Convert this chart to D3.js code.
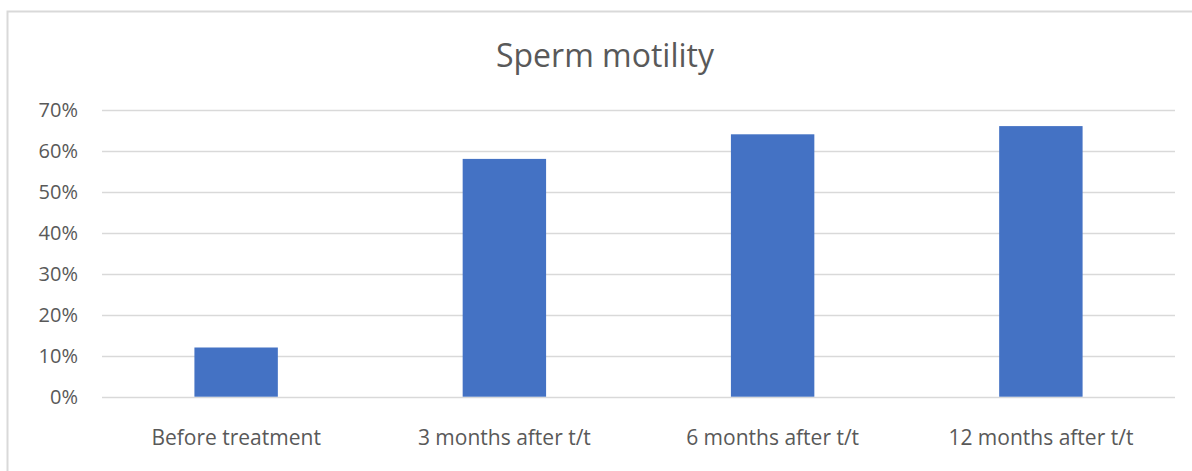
<!DOCTYPE html>
<html>
<head>
<meta charset="utf-8">
<script src="https://cdn.jsdelivr.net/npm/d3@7"></script>
<style>
  body { margin: 0; background: #fff; }
  svg text { font-family: "Open Sans", Lato, sans-serif; fill: #595959; }
</style>
</head>
<body>
<div class="chart"></div>
<script>
(function(){

// chart data
var categories = ["Before treatment", "3 months after t/t", "6 months after t/t", "12 months after t/t"];
var motility = [0.12, 0.58, 0.64, 0.66];
var yTicks = [0, 0.1, 0.2, 0.3, 0.4, 0.5, 0.6, 0.7];
var title = "Sperm motility";

var width = 1192,
    height = 471;

var svg = d3.select(".chart")
    .append("svg")
    .attr("width", width)
    .attr("height", height);

// outer chart frame (right & bottom edges fall off the picture)
svg.append("rect")
    .attr("x", 7.5)
    .attr("y", 11.5)
    .attr("width", 1200)
    .attr("height", 500)
    .attr("fill", "none")
    .attr("stroke", "#d9d9d9")
    .attr("stroke-width", 2);

var plotLeft = 102, plotRight = 1175,
    plotTop = 109.7, plotBottom = 396.7;

var x = d3.scaleBand()
    .domain(categories)
    .range([plotLeft, plotRight])
    .paddingInner(0.689)
    .paddingOuter(0.689 / 2);

var y = d3.scaleLinear()
    .domain([0, 0.7])
    .range([plotBottom, plotTop]);

// gridlines
svg.append("g")
    .selectAll("line")
    .data(yTicks)
    .enter()
    .append("line")
    .attr("x1", plotLeft)
    .attr("x2", plotRight)
    .attr("y1", function(d){ return Math.round(y(d)) + 0.5; })
    .attr("y2", function(d){ return Math.round(y(d)) + 0.5; })
    .attr("stroke", "#d9d9d9")
    .attr("stroke-width", 1.3);

// y axis labels
var yAxis = d3.axisLeft(y)
    .tickValues(yTicks)
    .tickFormat(d3.format(".0%"))
    .tickSize(0)
    .tickPadding(0);

var yg = svg.append("g")
    .attr("transform", "translate(78,0)")
    .call(yAxis);
yg.select(".domain").remove();
yg.selectAll("text")
    .attr("dy", "0.36em")
    .style("font-size", "20px")
    .style("fill", "#595959");

// bars
svg.append("g")
    .selectAll("rect")
    .data(motility)
    .enter()
    .append("rect")
    .attr("x", function(d, i){ return x(categories[i]); })
    .attr("y", function(d){ return y(d); })
    .attr("width", x.bandwidth())
    .attr("height", function(d){ return plotBottom - y(d); })
    .attr("fill", "#4472c4");

// category labels
var xAxis = d3.axisBottom(x)
    .tickSize(0)
    .tickPadding(0);

var xg = svg.append("g")
    .attr("transform", "translate(0,437)")
    .call(xAxis);
xg.select(".domain").remove();
xg.selectAll("text")
    .attr("dy", "0.36em")
    .style("font-size", "21px")
    .style("fill", "#595959");

// title
svg.append("text")
    .attr("x", 605)
    .attr("y", 67)
    .attr("text-anchor", "middle")
    .style("font-size", "32px")
    .text(title);

})();
</script>
</body>
</html>
